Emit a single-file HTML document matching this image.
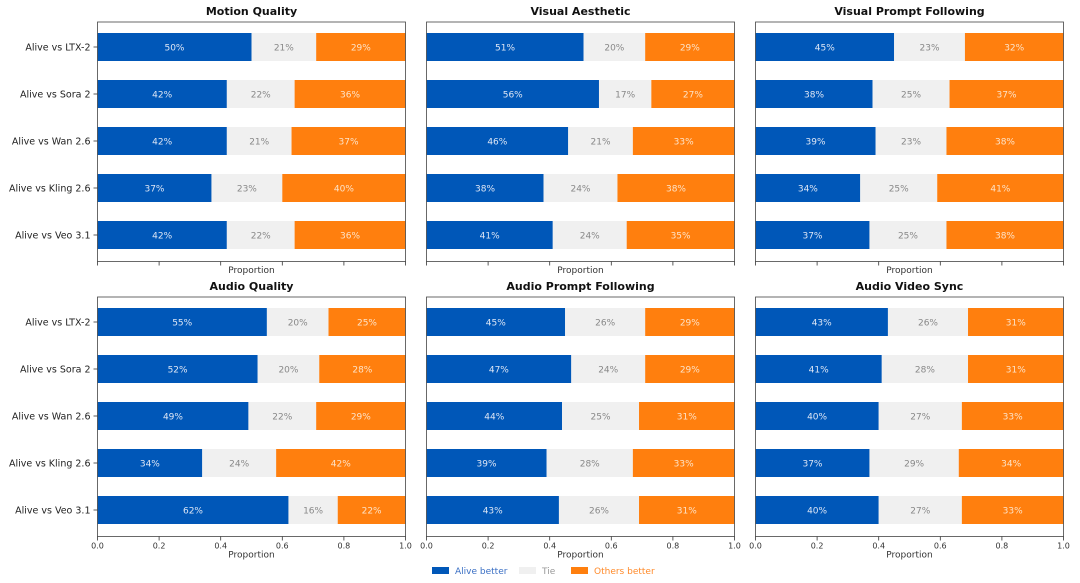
<!DOCTYPE html>
<html><head><meta charset="utf-8"><style>
html,body{margin:0;padding:0;background:#fff;}
svg{display:block;font-family:"DejaVu Sans","Liberation Sans",sans-serif;}
</style></head><body>
<svg id="chart" width="1080" height="583" viewBox="0 0 1080 583"></svg>
<script>
const titles=["Motion Quality","Visual Aesthetic","Visual Prompt Following","Audio Quality","Audio Prompt Following","Audio Video Sync"];
const categories=["Alive vs LTX-2","Alive vs Sora 2","Alive vs Wan 2.6","Alive vs Kling 2.6","Alive vs Veo 3.1"];
const aliveBetter=[[50,42,42,37,42],[51,56,46,38,41],[45,38,39,34,37],[55,52,49,34,62],[45,47,44,39,43],[43,41,40,37,40]];
const tie=[[21,22,21,23,22],[20,17,21,24,24],[23,25,23,25,25],[20,20,22,24,16],[26,24,25,28,26],[26,28,27,29,27]];
const othersBetter=[[29,36,37,40,36],[29,27,33,38,35],[32,37,38,41,38],[25,28,29,42,22],[29,29,31,33,31],[31,31,33,34,33]];
const xTicks=[0,0.2,0.4,0.6,0.8,1.0];
const xTickLabels=["0.0","0.2","0.4","0.6","0.8","1.0"];

const svg=document.getElementById('chart');
const NS='http://www.w3.org/2000/svg';
function mk(tag,attrs,parent){const e=document.createElementNS(NS,tag);for(const k in attrs)e.setAttribute(k,attrs[k]);(parent||svg).appendChild(e);return e;}
const colors=["#0057b8","#f0f0f0","#ff7f0e"];
const txtColors=["#dde6f5","#888","#fde3c8"];
const panelX=[97.5,426.5,755.5];
const panelY=[22,297];
const W=308,H=239.5;
for(let p=0;p<6;p++){
  const col=p%3,row=Math.floor(p/3);
  const x0=panelX[col],y0=panelY[row];
  const g=mk('g',{});
  
  
  const xs=v=>x0+v*W;
  const yc=i=>y0+25+i*47;
  const t=mk('text',{x:x0+W/2,y:y0-7,'text-anchor':'middle','font-size':11,'font-weight':'bold',fill:'#111'},g);
  t.textContent=titles[p];
  
  
  for(let i=0;i<5;i++){
    const vals=[aliveBetter[p][i],tie[p][i],othersBetter[p][i]];
    let acc=0;
    for(let s=0;s<3;s++){
      const a=acc/100,b=(acc+vals[s])/100;
      const r=mk('rect',{x:xs(a),y:yc(i)-14,width:xs(b)-xs(a),height:28,fill:colors[s]},g);
      
      
      const tl=mk('text',{x:(xs(a)+xs(b))/2,y:yc(i)+3.5,'text-anchor':'middle','font-size':9,fill:txtColors[s]},g);
      tl.textContent=vals[s]+'%';
      
      
      acc+=vals[s];
    }
    if(col===0){
      mk('line',{x1:x0-4,x2:x0,y1:yc(i),y2:yc(i),stroke:'#333','stroke-width':0.8},g);
      const cl=mk('text',{x:x0-7,y:yc(i)+3.5,'text-anchor':'end','font-size':9.5,fill:'#222'},g);
      cl.textContent=categories[i];
      
      
    }
  }
  const fr=mk('rect',{x:x0,y:y0,width:W,height:H,fill:'none',stroke:'#444','stroke-width':0.8},g);
  
  
  xTicks.forEach((v,k)=>{
    mk('line',{x1:xs(v),x2:xs(v),y1:y0+H,y2:y0+H+4,stroke:'#333','stroke-width':0.8},g);
    if(row===1){
      const tk=mk('text',{x:xs(v),y:y0+H+12,'text-anchor':'middle','font-size':8,fill:'#333'},g);
      tk.textContent=xTickLabels[k];
      
      
    }
  });
  const xl=mk('text',{x:x0+W/2,y:row===0?y0+H+11.5:y0+H+21,'text-anchor':'middle','font-size':9,fill:'#333'},g);
  xl.textContent='Proportion';
  
  
}
const legend=[["Alive better",432,"#0057b8","#3a6fc4"],["Tie",519,"#f0f0f0","#999"],["Others better",571,"#ff7f0e","#ff8a2a"]];
legend.forEach(l=>{
  const g=mk('g',{});
  
  
  mk('rect',{x:l[1],y:567,width:17,height:7,fill:l[2]},g);
  const t=mk('text',{x:l[1]+23,y:574,'font-size':9,fill:l[3]},g);
  t.textContent=l[0];
});
</script>
</body></html>
